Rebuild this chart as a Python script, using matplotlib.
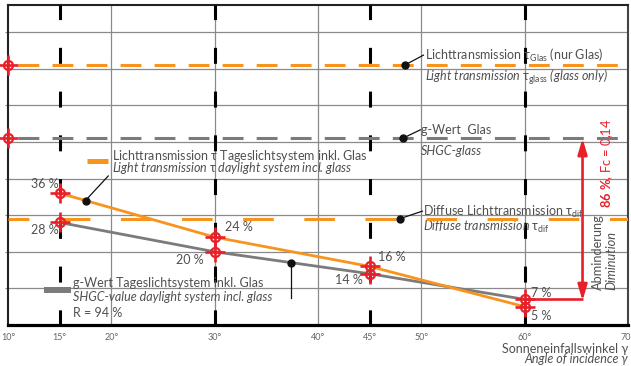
import numpy as np
import matplotlib
matplotlib.use("Agg")
import matplotlib.pyplot as plt

plt.rcParams["font.family"] = ["Lato", "DejaVu Sans"]
plt.rcParams["mathtext.fontset"] = "custom"
plt.rcParams["mathtext.rm"] = "Lato"
plt.rcParams["mathtext.it"] = "Lato:italic"
plt.rcParams["mathtext.bf"] = "Lato:bold"
plt.rcParams["lines.scale_dashes"] = False

# ---- data ----
angles = [15, 30, 45, 60]
tau_system = [36, 24, 16, 5]          # light transmission, daylight system incl. glass (%)
g_system = [28, 20, 14, 7]            # g-value, daylight system incl. glass (%)
tau_glass = 71                        # light transmission of glass only (%)
g_glass = 51                          # g-value of glass (%)
tau_diffuse = 29                      # diffuse light transmission (%)
xtick_values = [10, 15, 20, 30, 40, 45, 50, 60, 70]
xtick_labels = ["10°", "15°", "20°", "30°", "40°", "45°", "50°", "60°", "70°"]

ORANGE = "#f7941d"
GREY = "#7b7b7b"
RED = "#e8202a"
TXT = "#505050"

W, H = 631, 366
fig = plt.figure(figsize=(W / 100, H / 100), dpi=100)
ax = fig.add_axes([8 / W, (H - 325) / H, 620 / W, 320 / H])
ax.set_xlim(10, 70)
ax.set_ylim(0, 87.4)

# grid
for gx in [20, 30, 40, 50, 60]:
    ax.axvline(gx, color="#8a8a8a", lw=0.9, zorder=1)
for gy in range(10, 90, 10):
    ax.axhline(gy, color="#8a8a8a", lw=0.9, zorder=1)

# spines / ticks
for side in ["left", "top", "right"]:
    ax.spines[side].set_color("#222222")
    ax.spines[side].set_linewidth(1.5)
ax.spines["right"].set_color("#444444")
ax.spines["bottom"].set_color("black")
ax.spines["bottom"].set_linewidth(2.3)
ax.set_xticks(xtick_values)
ax.set_xticklabels(xtick_labels, fontsize=6.5, color="#666666")
ax.tick_params(axis="x", length=0, pad=6)
ax.set_yticks(range(10, 90, 10))
ax.set_yticklabels([])
ax.tick_params(axis="y", length=2.5, width=0.8, color="#888888", direction="out")

# vertical black dashed markers at the measured angles
for a in angles:
    ax.plot([a, a], [87.4, 0], color="black", lw=2.2,
            linestyle=(1, (11.5, 20)), solid_capstyle="butt",
            dash_capstyle="butt", zorder=3)

# horizontal reference lines
ax.plot([10, 70], [tau_glass] * 2, color=ORANGE, lw=2.2,
        linestyle=(17.3, (15, 9.5)), dash_capstyle="butt", zorder=4)
ax.plot([10, 70], [g_glass] * 2, color=GREY, lw=2.2,
        linestyle=(17.3, (15, 9.5)), dash_capstyle="butt", zorder=4)
ax.plot([10, 70], [tau_diffuse] * 2, color=ORANGE, lw=2.2,
        linestyle=(7, (22, 22)), dash_capstyle="butt", zorder=4)

# curves
ax.plot(angles, g_system, color=GREY, lw=2.0, zorder=5, solid_capstyle="butt")
ax.plot(angles, tau_system, color=ORANGE, lw=2.0, zorder=5, solid_capstyle="butt")


def crosshair(xs, ys):
    ax.plot(xs, ys, ls="none", marker="+", ms=15, mew=1.9, color=RED,
            zorder=8, clip_on=False)
    ax.plot(xs, ys, ls="none", marker="o", ms=6.5, mew=1.6, mfc="none",
            mec=RED, zorder=8, clip_on=False)


crosshair(angles, tau_system)
crosshair(angles, g_system)
crosshair([10, 10], [tau_glass, g_glass])

# reduction arrow
x_arrow = 65.6
ax.plot([angles[-1], x_arrow], [g_system[-1]] * 2, color=RED, lw=1.9,
        solid_capstyle="butt", zorder=7)
ax.annotate("", xy=(x_arrow, g_glass), xytext=(x_arrow, g_system[-1] - 0.4),
            arrowprops=dict(arrowstyle="<|-|>,head_length=0.95,head_width=0.28",
                            color=RED, lw=1.9, mutation_scale=10,
                            shrinkA=0, shrinkB=0), zorder=7)
ax.text(67.97, 32, r"$\mathbf{86\ \%}$, Fc = 0,14", rotation=90, ha="center",
        va="bottom", color=RED, fontsize=9.3)
ax.text(67.1, 9.6, "Abminderung", rotation=90, ha="center", va="bottom",
        color=TXT, fontsize=9.2)
ax.text(68.36, 9.6, "Diminution", rotation=90, ha="center", va="bottom",
        color=TXT, fontsize=9.2, style="italic")


def leader(x0, y0, x1, y1):
    ax.plot([x0, x1], [y0, y1], color="#111111", lw=0.9, zorder=9)
    ax.plot([x0], [y0], "o", color="#111111", ms=5, zorder=9)


fs = 9
# glass light transmission
leader(48.4, tau_glass, 50.2, 73.7)
ax.text(50.36, 73.7, r"Lichttransmission $\mathrm{\tau}_{\mathrm{Glas}}$ (nur Glas)",
        fontsize=fs, color=TXT, va="center", ha="left", zorder=9)
ax.text(50.36, 67.7, r"Light transmission $\mathrm{\tau}_{\mathrm{glass}}$ (glass only)",
        fontsize=fs, color=TXT, va="center", ha="left", style="italic", zorder=9)

# glass g-value
leader(48.2, g_glass, 49.9, 53.3)
ax.text(49.97, 53.2, "g-Wert  Glas", fontsize=fs, color=TXT, va="center", ha="left")
ax.text(49.97, 47.5, "SHGC-glass", fontsize=fs, color=TXT, va="center", ha="left",
        style="italic")

# diffuse transmission
leader(47.9, tau_diffuse, 50.1, 31.1)
ax.text(50.16, 30.9, r"Diffuse Lichttransmission $\mathrm{\tau}_{\mathrm{dif}}$",
        fontsize=fs, color=TXT, va="center", ha="left")
ax.text(50.16, 26.8, r"Diffuse transmission $\mathrm{\tau}_{\mathrm{dif}}$",
        fontsize=fs, color=TXT, va="center", ha="left", style="italic")

# daylight system light transmission
xo = 17.5
leader(xo, np.interp(xo, angles, tau_system), 19.7, 40.7)
ax.plot([17.6, 19.7], [44.8, 44.8], color=ORANGE, lw=3.6, solid_capstyle="butt")
ax.text(20.06, 46.1, r"Lichttransmission $\mathrm{\tau}$ Tageslichtsystem inkl. Glas",
        fontsize=fs, color=TXT, va="center", ha="left")
ax.text(20.06, 42.9, r"Light transmission $\mathrm{\tau}$ daylight system incl. glass",
        fontsize=fs, color=TXT, va="center", ha="left", style="italic")

# daylight system g-value
xg = 37.4
yg = np.interp(xg, angles, g_system)
ax.plot([xg, xg], [yg, 7.4], color="#111111", lw=0.9, zorder=9)
ax.plot([xg], [yg], "o", color="#111111", ms=5, zorder=9)
ax.plot([13.48, 16.1], [9.6, 9.6], color=GREY, lw=4.3, solid_capstyle="butt")
ax.text(16.29, 11.5, "g-Wert Tageslichtsystem inkl. Glas", fontsize=fs, color=TXT,
        va="center", ha="left")
ax.text(16.29, 7.6, "SHGC-value daylight system incl. glass", fontsize=fs,
        color=TXT, va="center", ha="left", style="italic")
ax.text(16.29, 3.3, "R = 94 %", fontsize=fs, color=TXT, va="center", ha="left")

# value labels
lab_fs = 9
ax.text(14.9, 38.6, f"{tau_system[0]} %", fontsize=lab_fs, color=TXT, ha="right", va="center")
ax.text(14.9, 26.0, f"{g_system[0]} %", fontsize=lab_fs, color=TXT, ha="right", va="center")
ax.text(31.0, 26.8, f"{tau_system[1]} %", fontsize=lab_fs, color=TXT, ha="left", va="center")
ax.text(28.9, 17.7, f"{g_system[1]} %", fontsize=lab_fs, color=TXT, ha="right", va="center")
ax.text(45.8, 18.6, f"{tau_system[2]} %", fontsize=lab_fs, color=TXT, ha="left", va="center")
ax.text(44.3, 12.3, f"{g_system[2]} %", fontsize=lab_fs, color=TXT, ha="right", va="center")
ax.text(60.6, 8.7, f"{g_system[3]} %", fontsize=lab_fs, color=TXT, ha="left", va="center")
ax.text(60.6, 2.5, f"{tau_system[3]} %", fontsize=lab_fs, color=TXT, ha="left", va="center")

# axis title
ax.text(70, -6.6, "Sonneneinfallswinkel γ", fontsize=9, color=TXT, ha="right",
        va="center", clip_on=False)
ax.text(70, -9.4, "Angle of incidence γ", fontsize=9, color=TXT, ha="right",
        va="center", style="italic", clip_on=False)

fig.savefig("out.png", dpi=100)
